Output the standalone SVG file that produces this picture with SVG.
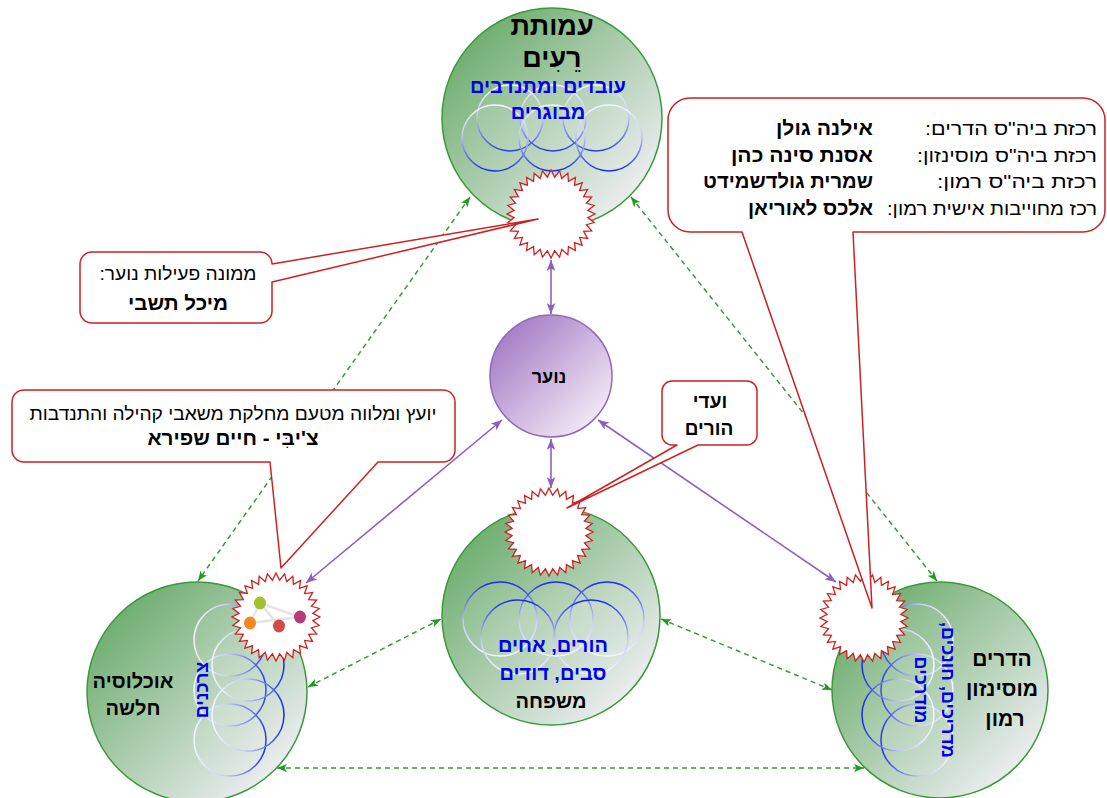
<svg xmlns="http://www.w3.org/2000/svg" xmlns:xlink="http://www.w3.org/1999/xlink" width="1107" height="798" viewBox="0 0 1107 798">
<style>
.ng{fill:url(#gGreen);stroke:#3a9a3a;stroke-width:1.5}
.np{fill:url(#gPurple);stroke:#9466bd;stroke-width:1.5}
.burst{fill:#fff;stroke:#cc2222;stroke-width:1.3}
.callout{fill:#fff;stroke:#cc2222;stroke-width:1.5;stroke-linejoin:round}
.pur{fill:none;stroke:#8e5fc0;stroke-width:1.6;marker-start:url(#mP);marker-end:url(#mP)}
.grn{fill:none;stroke:#3a9a3a;stroke-width:1.5;stroke-dasharray:5 4;marker-start:url(#mG);marker-end:url(#mG)}
.cl{fill:#fff;fill-opacity:0.08;stroke-width:1.5}
text{font-family:"Liberation Sans",Arial,"DejaVu Sans",sans-serif;direction:rtl}
.b{font-weight:bold;fill:#000}
.blue{font-weight:bold;fill:#0000ee}
.n{fill:#000}
.c{text-anchor:middle}
.r{text-anchor:start}
</style>
<defs>
<linearGradient id="gGreen" x1="0.12" y1="0.12" x2="0.88" y2="0.88">
<stop offset="0" stop-color="#6dad6d"/>
<stop offset="1" stop-color="#eeeff3"/>
</linearGradient>
<linearGradient id="gPurple" x1="0.12" y1="0.12" x2="0.88" y2="0.88">
<stop offset="0" stop-color="#a57cc6"/>
<stop offset="1" stop-color="#f3ebf7"/>
</linearGradient>
<linearGradient id="bDown" x1="0" y1="0" x2="0" y2="1">
<stop offset="0" stop-color="#f4f6ff"/>
<stop offset="0.45" stop-color="#c4ccf2"/>
<stop offset="1" stop-color="#1a2bea"/>
</linearGradient>
<linearGradient id="bUp" x1="0" y1="0" x2="0" y2="1">
<stop offset="0" stop-color="#1a2bea"/>
<stop offset="0.55" stop-color="#c4ccf2"/>
<stop offset="1" stop-color="#f4f6ff"/>
</linearGradient>
<linearGradient id="bRight" x1="0" y1="0" x2="1" y2="0">
<stop offset="0" stop-color="#f4f6ff"/>
<stop offset="0.45" stop-color="#c4ccf2"/>
<stop offset="1" stop-color="#1a2bea"/>
</linearGradient>
<linearGradient id="bLeft" x1="0" y1="0" x2="1" y2="0">
<stop offset="0" stop-color="#1a2bea"/>
<stop offset="0.55" stop-color="#c4ccf2"/>
<stop offset="1" stop-color="#f4f6ff"/>
</linearGradient>
<marker id="mP" viewBox="0 0 10 8" refX="10" refY="4" markerWidth="11" markerHeight="9" markerUnits="userSpaceOnUse" orient="auto-start-reverse">
<path d="M0,0 L10,4 L0,8 L2.5,4 Z" fill="#8e5fc0"/>
</marker>
<marker id="mG" viewBox="0 0 10 8" refX="10" refY="4" markerWidth="10" markerHeight="8" markerUnits="userSpaceOnUse" orient="auto-start-reverse">
<path d="M0,0 L10,4 L0,8 L2.5,4 Z" fill="#229922"/>
</marker>
<polygon id="burstShape" points="44,0 36.82,3.63 43.15,8.58 35.41,10.74 40.65,16.84 32.63,17.44 36.58,24.45 28.6,23.47 31.11,31.11 23.47,28.6 24.45,36.58 17.44,32.63 16.84,40.65 10.74,35.41 8.58,43.15 3.63,36.82 0,44 -3.63,36.82 -8.58,43.15 -10.74,35.41 -16.84,40.65 -17.44,32.63 -24.45,36.58 -23.47,28.6 -31.11,31.11 -28.6,23.47 -36.58,24.45 -32.63,17.44 -40.65,16.84 -35.41,10.74 -43.15,8.58 -36.82,3.63 -44,0 -36.82,-3.63 -43.15,-8.58 -35.41,-10.74 -40.65,-16.84 -32.63,-17.44 -36.58,-24.45 -28.6,-23.47 -31.11,-31.11 -23.47,-28.6 -24.45,-36.58 -17.44,-32.63 -16.84,-40.65 -10.74,-35.41 -8.58,-43.15 -3.63,-36.82 0,-44 3.63,-36.82 8.58,-43.15 10.74,-35.41 16.84,-40.65 17.44,-32.63 24.45,-36.58 23.47,-28.6 31.11,-31.11 28.6,-23.47 36.58,-24.45 32.63,-17.44 40.65,-16.84 35.41,-10.74 43.15,-8.58 36.82,-3.63"/>
</defs>

<rect width="1107" height="798" fill="#fff"/>

<g id="node-reim">
<circle class="ng" cx="552" cy="118" r="110"/>
<g class="cl" stroke="url(#bDown)">
<circle cx="510" cy="118" r="33"/>
<circle cx="553" cy="118" r="33"/>
<circle cx="596" cy="118" r="33"/>
<circle cx="495" cy="138" r="33"/>
<circle cx="552" cy="138" r="33"/>
<circle cx="609" cy="138" r="33"/>
</g>
<text class="b c" x="552" y="35" font-size="27">עמותת</text>
<text class="b c" x="552" y="67" font-size="27">רֵעִים</text>
<text class="blue c" x="548" y="93" font-size="20">עובדים ומתנדבים</text>
<text class="blue c" x="548" y="119" font-size="20">מבוגרים</text>
<use href="#burstShape" class="burst" x="551" y="214"/>
</g>

<g id="node-noar">
<circle class="np" cx="551" cy="376" r="61"/>
<text class="b c" x="549" y="383" font-size="18">נוער</text>
</g>

<g id="node-family">
<circle class="ng" cx="551" cy="616" r="109"/>
<g class="cl" stroke="url(#bUp)">
<circle cx="500" cy="619" r="37"/>
<circle cx="556" cy="619" r="37"/>
<circle cx="607" cy="619" r="37"/>
<circle cx="518" cy="637" r="37"/>
<circle cx="591" cy="637" r="37"/>
</g>
<text class="blue c" x="553" y="652" font-size="20">הורים, אחים</text>
<text class="blue c" x="553" y="680" font-size="20">סבים, דודים</text>
<text class="b c" x="551" y="708" font-size="20">משפחה</text>
<use href="#burstShape" class="burst" x="549" y="532"/>
</g>

<g id="node-weak">
<circle class="ng" cx="197" cy="692" r="110"/>
<g class="cl" stroke="url(#bRight)">
<circle cx="230" cy="640" r="36"/>
<circle cx="230" cy="690" r="36"/>
<circle cx="230" cy="740" r="36"/>
<circle cx="248" cy="665" r="36"/>
<circle cx="248" cy="715" r="36"/>
</g>
<text class="b c" x="133" y="688" font-size="20">אוכלוסיה</text>
<text class="b c" x="133" y="715" font-size="20">חלשה</text>
<text class="blue c" font-size="18" transform="translate(208,690) rotate(-90)" x="0" y="0">צרכנים</text>
<use href="#burstShape" class="burst" x="276" y="617"/>
<g id="network-icon">
<path d="M260,603 L250,623 M260,603 L279,626 M250,623 L300,617 M260,603 L300,617" fill="none" stroke="#e4e4e4" stroke-width="2.5"/>
<ellipse cx="260" cy="603" rx="6" ry="6.5" fill="#a4c02a"/>
<ellipse cx="250" cy="623" rx="6" ry="6.5" fill="#f5891f"/>
<ellipse cx="279" cy="626" rx="6" ry="6.5" fill="#d24a4a"/>
<ellipse cx="300" cy="617" rx="6" ry="6.5" fill="#b73a7a"/>
</g>
</g>

<g id="node-schools">
<circle class="ng" cx="940" cy="690" r="108"/>
<g class="cl" stroke="url(#bLeft)">
<circle cx="917" cy="640" r="36"/>
<circle cx="917" cy="690" r="36"/>
<circle cx="917" cy="740" r="36"/>
<circle cx="898" cy="665" r="36"/>
<circle cx="898" cy="715" r="36"/>
</g>
<text class="b c" x="1002" y="666" font-size="21">הדרים</text>
<text class="b c" x="1002" y="696" font-size="21">מוסינזון</text>
<text class="b c" x="1005" y="726" font-size="21">רמון</text>
<text class="blue c" font-size="18" transform="translate(942,690) rotate(90)"><tspan x="0" y="0">מדריכים, חונכים,</tspan><tspan x="0" y="27">מודרכים</tspan></text>
<use href="#burstShape" class="burst" x="864" y="618"/>
</g>

<g id="connectors">
<line class="pur" x1="551" y1="260" x2="551" y2="314"/>
<line class="pur" x1="551" y1="439" x2="551" y2="488"/>
<line class="pur" x1="502" y1="420" x2="306" y2="583"/>
<line class="pur" x1="598" y1="420" x2="836" y2="582"/>
<line class="grn" x1="470" y1="197" x2="198" y2="581"/>
<line class="grn" x1="631" y1="197" x2="937" y2="581"/>
<line class="grn" x1="308" y1="687" x2="441" y2="619"/>
<line class="grn" x1="661" y1="619" x2="832" y2="690"/>
<line class="grn" x1="277" y1="768" x2="864" y2="768"/>
</g>

<g id="callout-manager">
<path class="callout" d="M92,252 H260 A12,12 0 0 1 272,264 L538,219 L272,282 V311 A12,12 0 0 1 260,323 H92 A12,12 0 0 1 80,311 V264 A12,12 0 0 1 92,252 Z"/>
<text class="n c" x="178" y="280" font-size="18" textLength="157" lengthAdjust="spacingAndGlyphs">ממונה פעילות נוער:</text>
<text class="b c" x="178" y="310" font-size="20" textLength="100" lengthAdjust="spacingAndGlyphs">מיכל תשבי</text>
</g>

<g id="callout-advisor">
<path class="callout" d="M24,390 H443 A12,12 0 0 1 455,402 V450 A12,12 0 0 1 443,462 H378 L281,568 L270,462 H24 A12,12 0 0 1 12,450 V402 A12,12 0 0 1 24,390 Z"/>
<text class="n c" x="233" y="420" font-size="18" textLength="407" lengthAdjust="spacingAndGlyphs">יועץ ומלווה מטעם מחלקת משאבי קהילה והתנדבות</text>
<text class="b c" x="233" y="445" font-size="20" textLength="171" lengthAdjust="spacingAndGlyphs">צ'יבִּי - חיים שפירא</text>
</g>

<g id="callout-parents">
<path class="callout" d="M672,381 H747 A10,10 0 0 1 757,391 V435 A10,10 0 0 1 747,445 H698 L567,508 L677,445 H672 A10,10 0 0 1 662,435 V391 A10,10 0 0 1 672,381 Z"/>
<text class="b c" x="710" y="408" font-size="19">ועדי</text>
<text class="b c" x="709" y="435" font-size="19">הורים</text>
</g>

<g id="callout-coordinators">
<path class="callout" d="M690,98 H1083 A22,22 0 0 1 1105,120 V210 A22,22 0 0 1 1083,232 H853 L872,608 L742,232 H690 A22,22 0 0 1 668,210 V120 A22,22 0 0 1 690,98 Z"/>
<text class="n r" x="1097" y="135" font-size="18" textLength="172" lengthAdjust="spacingAndGlyphs">רכזת ביה"ס הדרים:</text>
<text class="n r" x="1097" y="162" font-size="18" textLength="180" lengthAdjust="spacingAndGlyphs">רכזת ביה"ס מוסינזון:</text>
<text class="n r" x="1097" y="188" font-size="18" textLength="160" lengthAdjust="spacingAndGlyphs">רכזת ביה"ס רמון:</text>
<text class="n r" x="1097" y="215" font-size="18" textLength="210" lengthAdjust="spacingAndGlyphs">רכז מחוייבות אישית רמון:</text>
<text class="b r" x="873" y="135" font-size="20" textLength="97" lengthAdjust="spacingAndGlyphs">אילנה גולן</text>
<text class="b r" x="873" y="162" font-size="20" textLength="142" lengthAdjust="spacingAndGlyphs">אסנת סינה כהן</text>
<text class="b r" x="873" y="188" font-size="20" textLength="170" lengthAdjust="spacingAndGlyphs">שמרית גולדשמידט</text>
<text class="b r" x="873" y="215" font-size="20" textLength="125" lengthAdjust="spacingAndGlyphs">אלכס לאוריאן</text>
</g>
</svg>
